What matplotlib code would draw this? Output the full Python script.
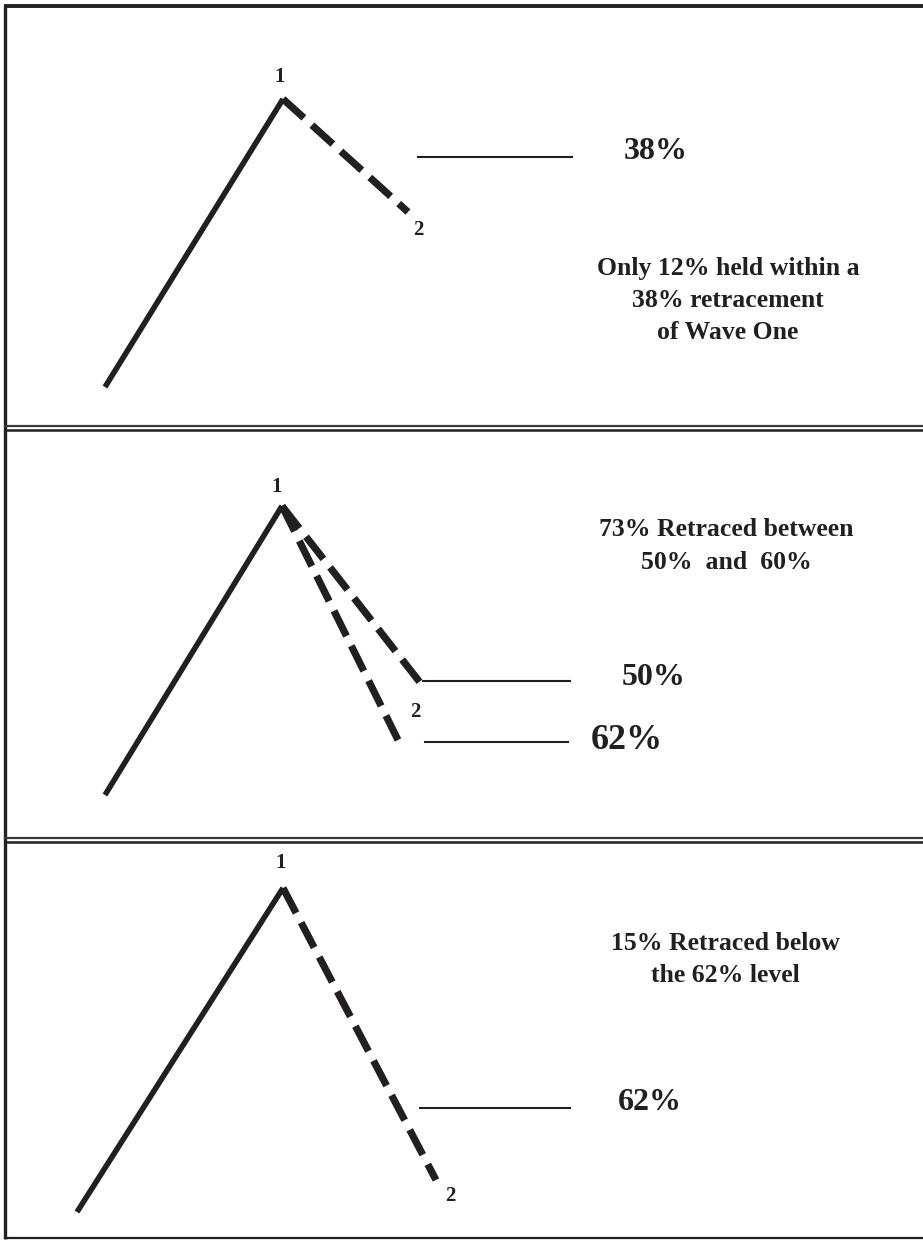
import matplotlib.pyplot as plt

# Schema de retracement de la vague 2 (coordonnees en pixels de la page)
W, H = 923, 1243
ink = "#231f20"

# vague 1 : depart et sommet, puis fins de la vague 2 pour chaque panneau
wave_start = [(105, 387), (105, 795), (77, 1212)]
wave_peak = [(283, 99), (282, 506), (283, 888)]
wave2_ends = [[(408, 212)], [(422, 685), (398, 740)], [(436, 1180)]]

# niveaux de retracement : (y, x debut, x fin)
level_lines = [[(157, 418, 572)], [(681, 423, 570), (742, 425, 568)], [(1108, 420, 570)]]
level_text = [[("38%", 656, 151, 23)], [("50%", 654, 677, 23), ("62%", 627, 740, 26)],
              [("62%", 650, 1103, 23)]]

label1_pos = [(280, 77), (277, 487), (281, 863)]
label2_pos = [(418, 230), (415, 712), (450, 1196)]

notes = [["Only 12% held within a", "38% retracement", "of Wave One"],
         ["73% Retraced between", "50%  and  60%"],
         ["15% Retraced below", "the 62% level"]]
notes_x = [728, 726, 725]
notes_y = [[268, 300, 332], [529, 562], [943, 975]]

fig = plt.figure(figsize=(W / 100, H / 100), dpi=100)
ax = fig.add_axes([0, 0, 1, 1])
ax.set_xlim(0, W)
ax.set_ylim(H, 0)
ax.axis("off")

font = dict(family="Liberation Serif", weight="bold", color=ink)

# cadre
ax.plot([4, W], [6, 6], color=ink, lw=2.8, solid_capstyle="butt")
ax.plot([5, 5], [5, 1239], color=ink, lw=2.4, solid_capstyle="butt")
ax.plot([5, W], [1238, 1238], color=ink, lw=1.6, solid_capstyle="butt")
for y1, y2 in [(426, 430), (838, 842)]:
    ax.plot([5, W], [y1, y1], color="#3a3a3a", lw=1.6)
    ax.plot([5, W], [y2, y2], color=ink, lw=1.8)

for i in range(3):
    x0, y0 = wave_start[i]
    xp, yp = wave_peak[i]
    ax.plot([x0, xp], [y0, yp], color=ink, lw=4, solid_capstyle="butt",
            solid_joinstyle="miter")
    for xe, ye in wave2_ends[i]:
        ax.plot([xp, xe], [yp, ye], color=ink, lw=5.2, dashes=(3.9, 1.5),
                dash_capstyle="butt")
    for y, xa, xb in level_lines[i]:
        ax.plot([xa, xb], [y, y], color=ink, lw=1.5)
    for txt, tx, ty, fs in level_text[i]:
        ax.text(tx, ty, txt, fontsize=fs, ha="center", va="center", **font)
    ax.text(*label1_pos[i], "1", fontsize=15, ha="center", va="center", **font)
    ax.text(*label2_pos[i], "2", fontsize=15, ha="center", va="center", **font)
    for line, ly in zip(notes[i], notes_y[i]):
        ax.text(notes_x[i], ly, line, fontsize=18.5, ha="center", va="center", **font)

fig.savefig("out.png", dpi=100)
